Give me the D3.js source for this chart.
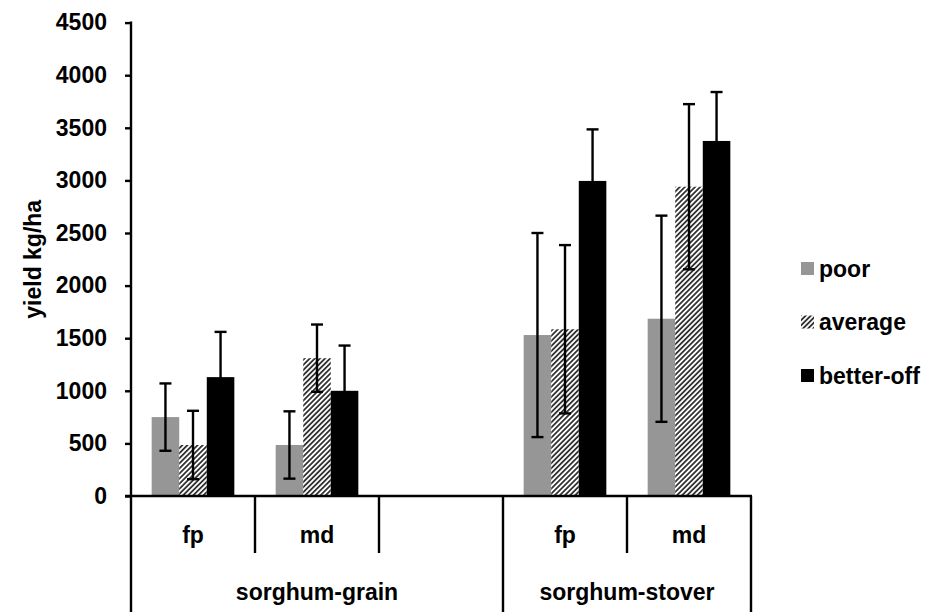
<!DOCTYPE html>
<html><head><meta charset="utf-8">
<script src="https://cdn.jsdelivr.net/npm/d3@7"></script>
<style>body{margin:0;background:#fff}svg{display:block}text{font-family:"Liberation Sans",Arial,sans-serif;font-weight:bold;fill:#000}</style>
</head><body>
<svg id="c" width="928" height="612"></svg>
<script>
const lowerCats = ["fp", "md", "", "fp", "md"];
const groupLabels = ["sorghum-grain", "sorghum-stover"];
const groupSpans = [3, 2];
const seriesNames = ["poor", "average", "better-off"];
const poor = [750, 485, null, 1530, 1685];
const poorErr = [320, 320, null, 970, 980];
const average = [485, 1310, null, 1585, 2940];
const averageErr = [325, 320, null, 800, 785];
const betterOff = [1130, 1000, null, 2995, 3375];
const betterOffErr = [430, 430, null, 490, 465];
const yTicks = [0, 500, 1000, 1500, 2000, 2500, 3000, 3500, 4000, 4500];
const yTitle = "yield kg/ha";

const svg = d3.select("#c");
const mLeft = 131, mRight = 751, mTop = 22.6, mBottom = 496;
const FS = 23, LW = 2.4;

const defs = svg.append("defs");
const pat = defs.append("pattern").attr("id", "hatch").attr("patternUnits", "userSpaceOnUse")
  .attr("width", 3.6).attr("height", 3.6).attr("patternTransform", "rotate(45)");
pat.append("rect").attr("width", 3.6).attr("height", 3.6).attr("fill", "#fff");
pat.append("line").attr("x1", 0.9).attr("y1", 0).attr("x2", 0.9).attr("y2", 3.6)
  .attr("stroke", "#333").attr("stroke-width", 1.8);

const idx = d3.range(lowerCats.length);
const x = d3.scaleBand().domain(idx).range([mLeft, mRight]).paddingInner(0).paddingOuter(0);
const y = d3.scaleLinear().domain([0, 4500]).range([mBottom, mTop]);
const inner = d3.scaleBand().domain(seriesNames).range([0, x.bandwidth()]).paddingInner(0).paddingOuter(0.75);

const series = [
  {name: "poor", vals: poor, err: poorErr, fill: "#969696"},
  {name: "average", vals: average, err: averageErr, fill: "url(#hatch)"},
  {name: "better-off", vals: betterOff, err: betterOffErr, fill: "#000"}
];

// y axis
const yAxis = d3.axisLeft(y).tickValues(yTicks).tickSize(6).tickPadding(18).tickFormat(d3.format("d"));
const ya = svg.append("g").attr("transform", `translate(${mLeft},0)`).call(yAxis);
ya.select(".domain").remove();
ya.attr("font-family", null).attr("font-size", null);
ya.selectAll(".tick line").attr("stroke", "#000").attr("stroke-width", LW);
ya.selectAll(".tick text").attr("font-size", FS).attr("fill", "#000");
svg.append("line").attr("x1", mLeft).attr("x2", mLeft).attr("y1", y(4500) - 1.2).attr("y2", 612)
  .attr("stroke", "#000").attr("stroke-width", LW);

// bars
series.forEach(s => {
  svg.append("g").selectAll("rect").data(idx.filter(i => s.vals[i] != null)).join("rect")
    .attr("x", i => x(i) + inner(s.name)).attr("width", inner.bandwidth())
    .attr("y", i => y(s.vals[i])).attr("height", i => y(0) - y(s.vals[i]))
    .attr("fill", s.fill);
});
// error bars
series.forEach(s => {
  const g = svg.append("g").attr("stroke", "#000").attr("stroke-width", LW);
  idx.filter(i => s.vals[i] != null).forEach(i => {
    const cx = x(i) + inner(s.name) + inner.bandwidth() / 2;
    const y1 = y(s.vals[i] + s.err[i]), y2 = y(s.vals[i] - s.err[i]);
    g.append("line").attr("x1", cx).attr("x2", cx).attr("y1", y1).attr("y2", y2);
    g.append("line").attr("x1", cx - 6).attr("x2", cx + 6).attr("y1", y1).attr("y2", y1);
    g.append("line").attr("x1", cx - 6).attr("x2", cx + 6).attr("y1", y2).attr("y2", y2);
  });
});

// x axis line
svg.append("line").attr("x1", mLeft - 6).attr("x2", mRight + 1).attr("y1", mBottom).attr("y2", mBottom)
  .attr("stroke", "#000").attr("stroke-width", LW);

// category separators
let acc = 0; const groupEnds = groupSpans.map(s => (acc += s));
idx.forEach(i => {
  const isGroupEnd = groupEnds.includes(i + 1);
  svg.append("line").attr("x1", x(i) + x.bandwidth()).attr("x2", x(i) + x.bandwidth())
    .attr("y1", mBottom).attr("y2", isGroupEnd ? 612 : 553)
    .attr("stroke", "#000").attr("stroke-width", LW);
  svg.append("text").attr("x", x(i) + x.bandwidth() / 2).attr("y", 543)
    .attr("text-anchor", "middle").attr("font-size", FS).text(lowerCats[i]);
});
let start = 0;
groupLabels.forEach((g, k) => {
  const x0 = x(start), x1 = x(start + groupSpans[k] - 1) + x.bandwidth();
  svg.append("text").attr("x", (x0 + x1) / 2).attr("y", 600)
    .attr("text-anchor", "middle").attr("font-size", FS).text(g);
  start += groupSpans[k];
});

// y title
svg.append("text").attr("transform", `translate(41,${(mTop + mBottom) / 2}) rotate(-90)`)
  .attr("text-anchor", "middle").attr("font-size", FS).text(yTitle);

// legend
const leg = svg.append("g");
series.forEach((s, k) => {
  const cy = 268.5 + k * 53.5;
  leg.append("rect").attr("x", 801).attr("y", cy - 6.5).attr("width", 13).attr("height", 13).attr("fill", s.fill);
  leg.append("text").attr("x", 819).attr("y", cy + 8.2).attr("font-size", FS).text(s.name);
});
</script>
</body></html>
